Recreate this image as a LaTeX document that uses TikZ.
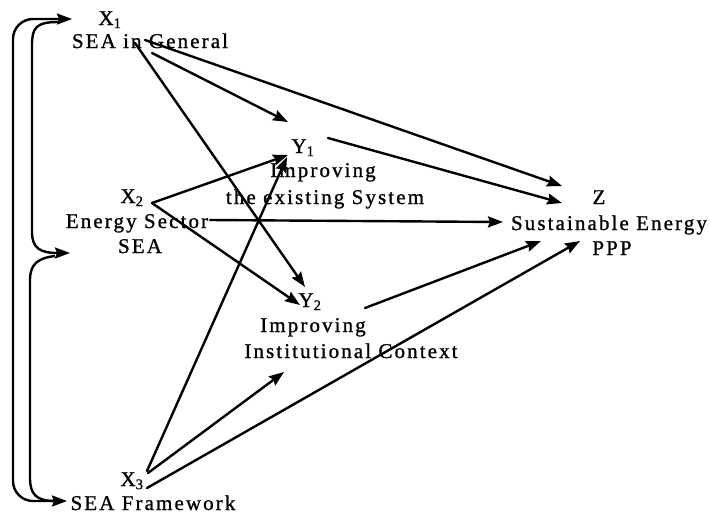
\documentclass[tikz,border=0pt]{standalone}
\usepackage{fontspec}
\setmainfont[LetterSpace=10,FakeBold=1]{Liberation Serif}
\usetikzlibrary{arrows.meta}
\begin{document}
\begin{tikzpicture}[x=1pt,y=-1pt,
  lbl/.style={anchor=base,inner sep=0pt,font=\fontsize{21}{25}\selectfont},
  tip/.style={-{Stealth[length=15pt,width=11pt,inset=2pt]}},
  conn/.style={line width=2.4pt,line cap=round,tip},
  bracket/.style={line width=2.4pt}]
\useasboundingbox (0,0) rectangle (710,515);

% variable labels and their descriptions
\node[lbl] (x1)  at (110,25)  {X\textsubscript{1}};
\node[lbl] (x1t) at (150,48)  {SEA in General};
\node[lbl] (y1)  at (303,153) {Y\textsubscript{1}};
\node[lbl] (y1a) at (323,177) {Improving};
\node[lbl] (y1b) at (325,204) {the existing System};
\node[lbl] (x2)  at (132,203) {X\textsubscript{2}};
\node[lbl] (x2a) at (137,228) {Energy Sector};
\node[lbl] (x2b) at (140,253) {SEA};
\node[lbl] (y2)  at (310,307) {Y\textsubscript{2}};
\node[lbl] (y2a) at (313,332) {Improving};
\node[lbl] (y2b) at (351,358) {Institutional Context};
\node[lbl] (z)   at (599,204) {Z};
\node[lbl] (za)  at (609,230) {Sustainable Energy};
\node[lbl] (zb)  at (612,255) {PPP};
\node[lbl] (x3)  at (132,486) {X\textsubscript{3}};
\node[lbl] (x3a) at (153,510) {SEA Framework};

% connector end points
\coordinate (x1s1) at (135,43);  \coordinate (y2in1) at (305,287);
\coordinate (x1s2) at (152,53);  \coordinate (y1in1) at (288,122);
\coordinate (x1s3) at (145,40);  \coordinate (zin1)  at (562,186);
\coordinate (y1s)  at (328,138); \coordinate (zin2)  at (562,203);
\coordinate (x2s)  at (152,203); \coordinate (y1in2) at (288,155);
                                 \coordinate (y2in2) at (300,305);
\coordinate (x2s2) at (210,220); \coordinate (zin3)  at (503,222);
\coordinate (y2s)  at (365,308); \coordinate (zin4)  at (541,241);
\coordinate (x3s1) at (147,471); \coordinate (y1in3) at (287,157);
\coordinate (x3s2) at (148,473); \coordinate (y2in3) at (284,372);
\coordinate (x3s3) at (147,488); \coordinate (zin5)  at (580,241);

% arrows between the variables
\draw[conn] (x1s1) -- (y2in1);
\draw[conn] (x1s2) -- (y1in1);
\draw[conn] (x1s3) -- (zin1);
\draw[conn] (y1s)  -- (zin2);
\draw[conn] (x2s)  -- (y1in2);
\draw[conn] (x2s)  -- (y2in2);
\draw[conn] (x2s2) -- (zin3);
\draw[conn] (y2s)  -- (zin4);
\draw[conn] (x3s1) -- (y1in3);
\draw[conn] (x3s2) -- (y2in3);
\draw[conn] (x3s3) -- (zin5);

% bracket on the left linking X1, X2 and X3
\coordinate (x1in) at (72,19);
\coordinate (x2in) at (70,253);
\coordinate (x3in) at (67,501);
\draw[bracket,{Stealth[length=15pt,width=11pt,inset=2pt]}-{Stealth[length=15pt,width=11pt,inset=2pt]},rounded corners=20pt]
  (x3in) -- (13,501) -- (13,19) -- (x1in);
\coordinate (bt) at (58,22);
\coordinate (bb) at (55,501);
\coordinate (bm) at (55,256);
\draw[bracket,tip]
  (bt) .. controls (36,22) and (32,28) .. (32,45) -- (32,232)
  .. controls (32,248) and (40,253) .. (x2in);
\draw[bracket]
  (bm) .. controls (38,258) and (30,264) .. (30,280) -- (30,478)
  .. controls (30,494) and (36,501) .. (bb);
\end{tikzpicture}
\end{document}
